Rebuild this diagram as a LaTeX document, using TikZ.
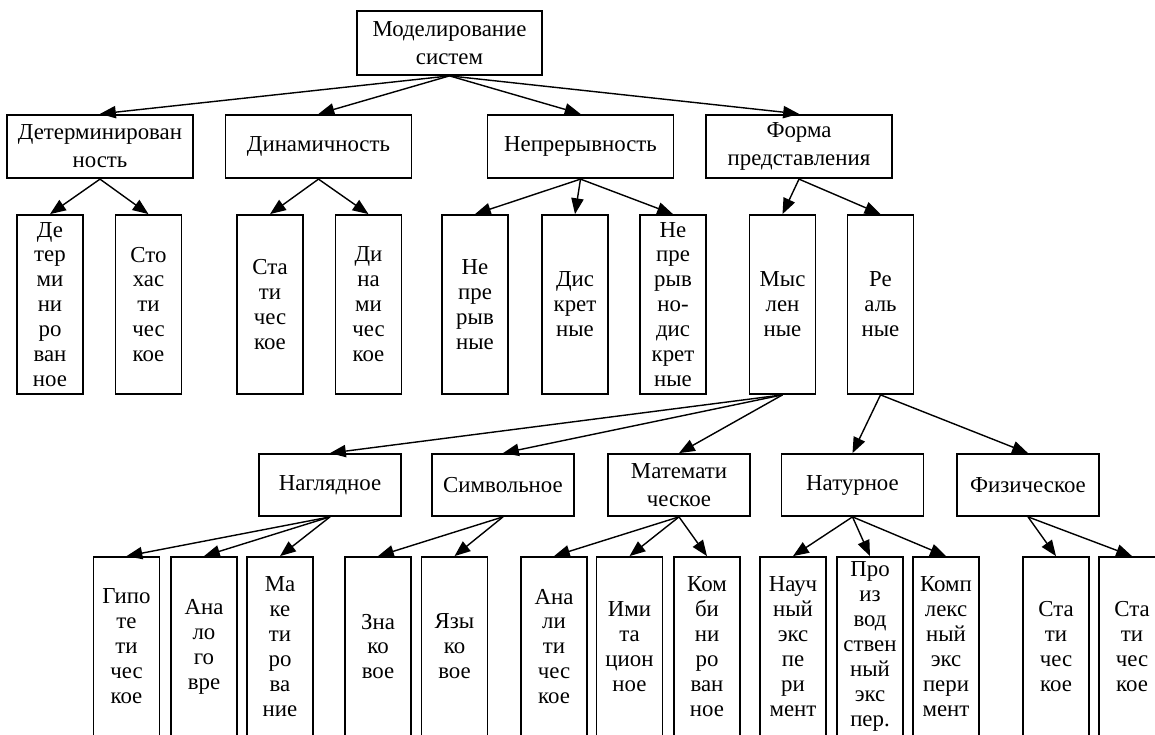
\documentclass[tikz,border=0pt]{standalone}
\usepackage{fontspec}
\setmainfont{Liberation Serif}
\usetikzlibrary{arrows.meta}

\begin{document}
\begin{tikzpicture}[>={Triangle[length=9pt,width=7pt]},
  box/.style={draw,line width=1pt,inner sep=0pt,align=center,font=\fontsize{13}{14.2}\selectfont},
  wide/.style={box,minimum width=3.72cm,minimum height=1.27cm,font=\fontsize{13}{16}\selectfont},
  mid/.style={box,minimum width=2.84cm,minimum height=1.24cm,font=\fontsize{13}{16}\selectfont},
  tall/.style={box,minimum width=1.32cm,minimum height=3.58cm},
  link/.style={->,line width=0.8pt}]
  \clip (0,0) rectangle (23.1,-14.7);
  % root and first level
  \node[box,minimum width=3.7cm,minimum height=1.28cm,font=\fontsize{13}{16}\selectfont] (m) at (8.99,-0.86) {Моделирование\\систем};
  \node[wide] (det) at (2.0,-2.93) {Детерминирован\\ность};
  \node[wide] (din) at (6.37,-2.93) {Динамичность};
  \node[wide] (nep) at (11.61,-2.93) {Непрерывность};
  \node[wide] (form) at (15.98,-2.93) {Форма\\представления};
  \draw[link] (m.south)--(det.north);\draw[link] (m.south)--(din.north);
  \draw[link] (m.south)--(nep.north);\draw[link] (m.south)--(form.north);
  % second level
  \node[tall] (det1) at (1.0,-6.09) {Де\\тер\\ми\\ни\\ро\\ван\\ное};
  \node[tall] (det2) at (2.97,-6.09) {Сто\\хас\\ти\\чес\\кое};
  \node[tall] (din1) at (5.4,-6.09) {Ста\\ти\\чес\\кое};
  \node[tall] (din2) at (7.37,-6.09) {Ди\\на\\ми\\чес\\кое};
  \node[tall] (nep1) at (9.5,-6.09) {Не\\пре\\рыв\\ные};
  \node[tall] (nep2) at (11.5,-6.09) {Дис\\крет\\ные};
  \node[tall] (nep3) at (13.46,-6.09) {Не\\пре\\рыв\\но-\\дис\\крет\\ные};
  \node[tall] (mysl) at (15.65,-6.09) {Мыс\\лен\\ные};
  \node[tall] (real) at (17.61,-6.09) {Ре\\аль\\ные};
  \draw[link] (det.south)--(det1.north);\draw[link] (det.south)--(det2.north);
  \draw[link] (din.south)--(din1.north);\draw[link] (din.south)--(din2.north);
  \draw[link] (nep.south)--(nep1.north);\draw[link] (nep.south)--(nep2.north);\draw[link] (nep.south)--(nep3.north);
  \draw[link] (form.south)--(mysl.north);\draw[link] (form.south)--(real.north);
  % third level
  \node[mid] (nagl) at (6.6,-9.7) {Наглядное};
  \node[mid] (simv) at (10.06,-9.7) {Символьное};
  \node[mid] (mat) at (13.58,-9.7) {Математи\\ческое};
  \node[mid] (nat) at (17.05,-9.7) {Натурное};
  \node[mid] (fiz) at (20.56,-9.7) {Физическое};
  \draw[link] (mysl.south)--(nagl.north);\draw[link] (mysl.south)--(simv.north);\draw[link] (mysl.south)--(mat.north);
  \draw[link] (real.south)--(nat.north);\draw[link] (real.south)--(fiz.north);
  % fourth level
  \node[tall] (gip) at (2.53,-12.93) {Гипо\\те\\ти\\чес\\кое};
  \node[tall] (anlg) at (4.08,-12.93) {Ана\\ло\\го\\вре};
  \node[tall] (maket) at (5.6,-12.93) {Ма\\ке\\ти\\ро\\ва\\ние};
  \node[tall] (znak) at (7.56,-12.93) {Зна\\ко\\вое};
  \node[tall] (yaz) at (9.09,-12.93) {Язы\\ко\\вое};
  \node[tall] (anlt) at (11.08,-12.93) {Ана\\ли\\ти\\чес\\кое};
  \node[tall] (imit) at (12.59,-12.93) {Ими\\та\\цион\\ное};
  \node[tall] (komb) at (14.14,-12.93) {Ком\\би\\ни\\ро\\ван\\ное};
  \node[tall] (nauch) at (15.86,-12.93) {Науч\\ный\\экс\\пе\\ри\\мент};
  \node[tall] (proizv) at (17.4,-12.93) {Про\\из\\вод\\ствен\\ный\\экс\\пер.};
  \node[tall] (kompl) at (18.92,-12.93) {Комп\\лекс\\ный\\экс\\пери\\мент};
  \node[tall] (stat1) at (21.12,-12.93) {Ста\\ти\\чес\\кое};
  \node[tall] (stat2) at (22.64,-12.93) {Ста\\ти\\чес\\кое};
  \draw[link] (nagl.south)--(gip.north);\draw[link] (nagl.south)--(anlg.north);\draw[link] (nagl.south)--(maket.north);
  \draw[link] (simv.south)--(znak.north);\draw[link] (simv.south)--(yaz.north);
  \draw[link] (mat.south)--(anlt.north);\draw[link] (mat.south)--(imit.north);\draw[link] (mat.south)--(komb.north);
  \draw[link] (nat.south)--(nauch.north);\draw[link] (nat.south)--(proizv.north);\draw[link] (nat.south)--(kompl.north);
  \draw[link] (fiz.south)--(stat1.north);\draw[link] (fiz.south)--(stat2.north);
\end{tikzpicture}
\end{document}
